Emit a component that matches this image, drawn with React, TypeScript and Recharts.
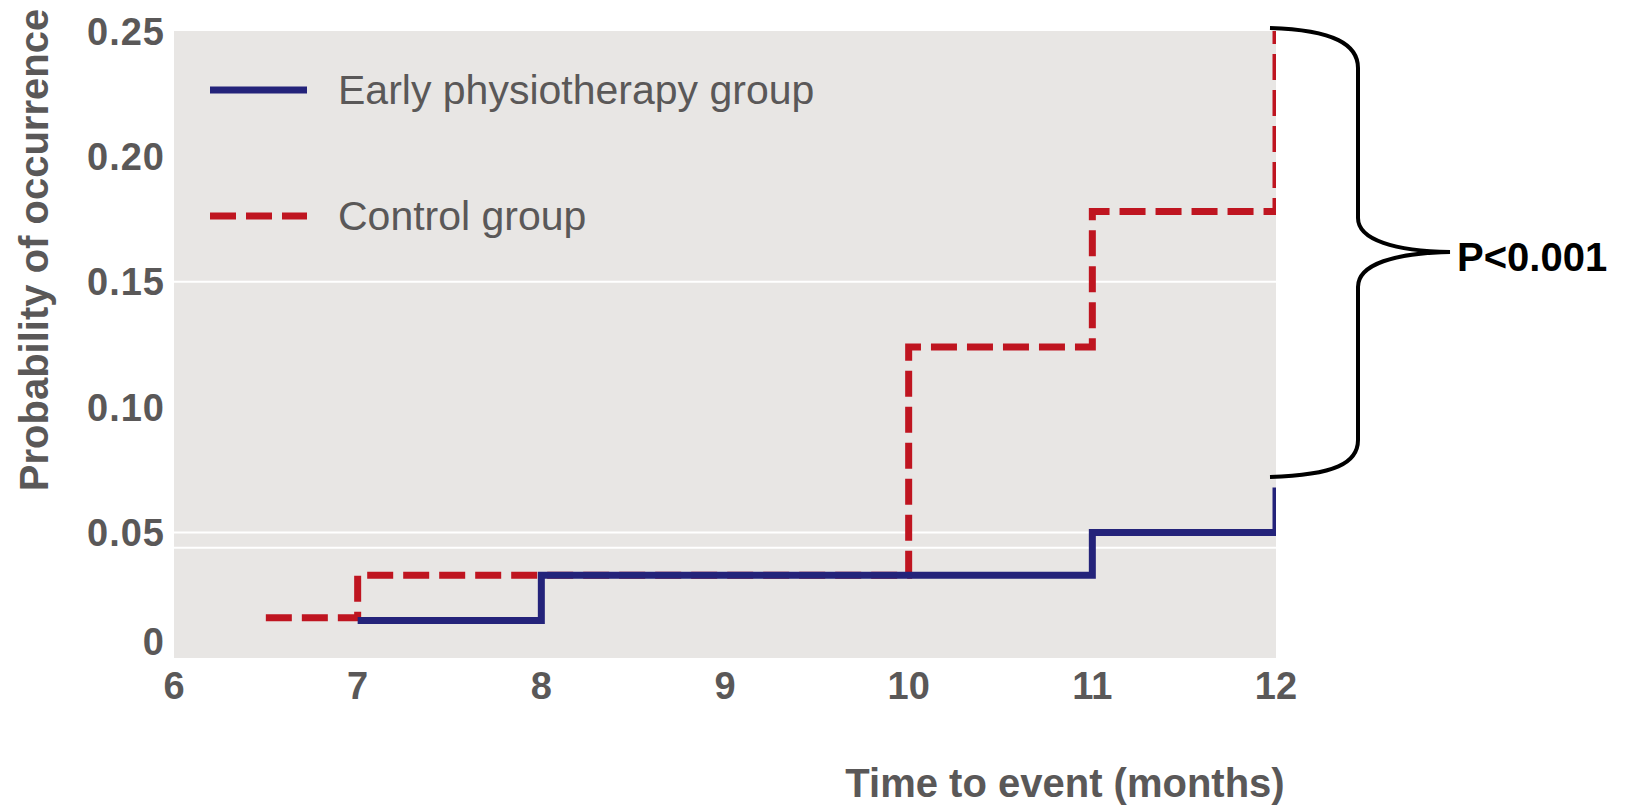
import React from "react";
import {
  LineChart,
  Line,
  XAxis,
  YAxis,
  CartesianGrid,
  ReferenceLine,
  Legend,
} from "recharts";

// Kaplan-Meier style step curves
const earlyGroup = [
  { x: 7, y: 0.015 },
  { x: 8, y: 0.033 },
  { x: 11, y: 0.05 },
  { x: 12, y: 0.068 },
];

const controlGroup = [
  { x: 6.5, y: 0.016 },
  { x: 7, y: 0.033 },
  { x: 10, y: 0.124 },
  { x: 11, y: 0.178 },
  { x: 12, y: 0.25 },
];

const xTicks = [6, 7, 8, 9, 10, 11, 12];
const yTicks = [0, 0.05, 0.1, 0.15, 0.2, 0.25];
const gridValues = [0.15, 0.05, 0.044];

const BLUE = "#24237a";
const RED = "#bf1520";
const GREY_TEXT = "#5a5858";
const FONT = "'Liberation Sans', Arial, sans-serif";

const series = [
  { name: "Early physiotherapy group", color: BLUE, dash: undefined },
  { name: "Control group", color: RED, dash: "26 10" },
];

const fmtY = (v: number) => (v === 0 ? "0" : v.toFixed(2));

function YTick(props: any) {
  const { x, y, payload } = props;
  const shift = payload.value === 0 ? -17 : 0;
  return (
    <text
      x={x}
      y={y + shift}
      dy="0.36em"
      textAnchor="end"
      fill={GREY_TEXT}
      fontSize={38}
      fontWeight="bold"
      fontFamily={FONT}
      letterSpacing={1}
    >
      {fmtY(payload.value)}
    </text>
  );
}

function renderLegend() {
  return (
    <div style={{ fontFamily: FONT }}>
      {series.map((s, i) => (
        <div
          key={s.name}
          style={{
            display: "flex",
            alignItems: "center",
            height: 60,
            marginBottom: i === 0 ? 66 : 0,
          }}
        >
          <svg width={100} height={10} style={{ marginRight: 28 }}>
            <line
              x1={0}
              y1={5}
              x2={97}
              y2={5}
              stroke={s.color}
              strokeWidth={7}
              strokeDasharray={s.dash}
            />
          </svg>
          <span style={{ fontSize: 41, color: GREY_TEXT, whiteSpace: "nowrap" }}>
            {s.name}
          </span>
        </div>
      ))}
    </div>
  );
}

export default function App() {
  return (
    <div style={{ position: "absolute", left: 0, top: 0, width: 1625, height: 807, background: "#fff" }}>
      <LineChart
        width={1625}
        height={807}
        margin={{ top: 31, right: 349, bottom: 0, left: 0 }}
      >
        <CartesianGrid
          horizontal={false}
          vertical={false}
          fill="#e8e6e4"
          fillOpacity={1}
        />
        {gridValues.map((v) => (
          <ReferenceLine key={v} y={v} stroke="#ffffff" strokeWidth={2} />
        ))}
        <XAxis
          dataKey="x"
          type="number"
          domain={[6, 12]}
          ticks={xTicks}
          allowDataOverflow
          height={149}
          axisLine={false}
          tickLine={false}
          tickSize={0}
          tickMargin={14}
          tick={{ fill: GREY_TEXT, fontSize: 38, fontWeight: "bold", fontFamily: FONT }}
          label={{
            content: () => (
              <text
                x={1065}
                y={797}
                textAnchor="middle"
                fill={GREY_TEXT}
                fontSize={40}
                fontWeight="bold"
                fontFamily={FONT}
              >
                Time to event (months)
              </text>
            ),
          }}
        />
        <YAxis
          type="number"
          domain={[0, 0.25]}
          ticks={yTicks}
          width={174}
          axisLine={false}
          tickLine={false}
          tickSize={0}
          tickMargin={9}
          tick={<YTick />}
          label={{
            content: () => (
              <text
                x={0}
                y={0}
                transform="translate(48,250) rotate(-90)"
                textAnchor="middle"
                fill={GREY_TEXT}
                fontSize={40}
                fontWeight="bold"
                fontFamily={FONT}
              >
                Probability of occurrence
              </text>
            ),
          }}
        />
        <Legend
          layout="vertical"
          align="center"
          verticalAlign="middle"
          content={renderLegend}
          wrapperStyle={{ left: 210, top: 60, width: 700 }}
        />
        <Line
          data={controlGroup}
          dataKey="y"
          name="Control group"
          type="stepAfter"
          stroke={RED}
          strokeWidth={7}
          strokeDasharray="26 10"
          dot={false}
          activeDot={false}
          isAnimationActive={false}
        />
        <Line
          data={earlyGroup}
          dataKey="y"
          name="Early physiotherapy group"
          type="stepAfter"
          stroke={BLUE}
          strokeWidth={7}
          dot={false}
          activeDot={false}
          isAnimationActive={false}
        />
      </LineChart>
      <svg
        width={1625}
        height={807}
        style={{ position: "absolute", left: 0, top: 0, pointerEvents: "none" }}
      >
        <path
          d="M1270,28 C1335,30 1358,45 1358,68 L1358,218 C1358,240 1395,251 1450,252 C1395,253 1358,264 1358,287 L1358,440 C1358,463 1335,475 1270,477"
          fill="none"
          stroke="#000"
          strokeWidth={4}
        />
        <text
          x={1457}
          y={271}
          fontSize={40}
          fontWeight="bold"
          fontFamily={FONT}
          fill="#000"
        >
          P&lt;0.001
        </text>
      </svg>
    </div>
  );
}
